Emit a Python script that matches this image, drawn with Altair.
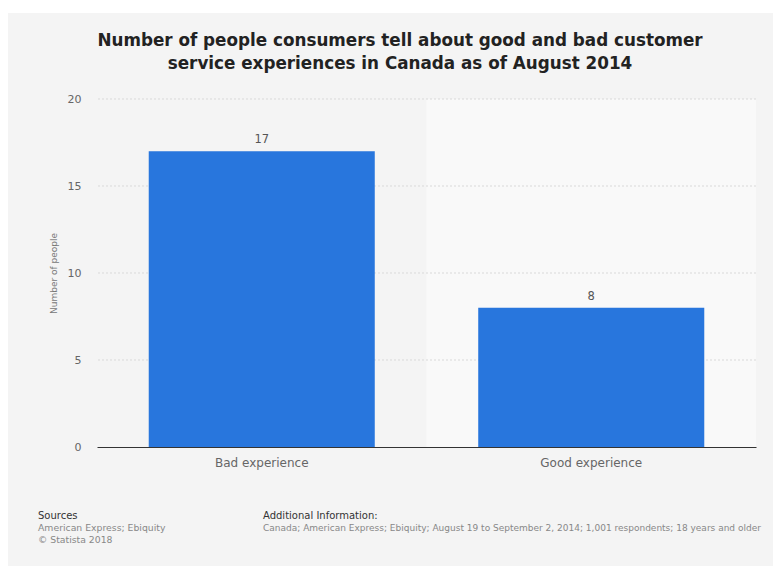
import altair as alt
import pandas as pd

categories = ["Bad experience", "Good experience"]
values = [17, 8]
band_fill = ["#f4f4f4", "#f9f9f9"]
y_ticks = [0, 5, 10, 15, 20]
grid_ticks = [5, 10, 15, 20]

title_lines = [
    "Number of people consumers tell about good and bad customer",
    "service experiences in Canada as of August 2014",
]
sources_head = "Sources"
sources_lines = ["American Express; Ebiquity", "© Statista 2018"]
info_head = "Additional Information:"
info_line = "Canada; American Express; Ebiquity; August 19 to September 2, 2014; 1,001 respondents; 18 years and older"

df = pd.DataFrame({"category": categories, "value": values, "fill": band_fill})
grid_df = pd.DataFrame({"tick": grid_ticks})
one = alt.Data(values=[{"k": 1}])

W, H = 659, 348
PAD_L, PAD_T, PAD_R, PAD_B = 97, 99, 17, 119
FONT = "DejaVu Sans"

outer_bg = alt.Chart(one).mark_rect(color="#f4f4f4").encode(
    x=alt.value(-PAD_L + 8), x2=alt.value(W + PAD_R),
    y=alt.value(-PAD_T + 13), y2=alt.value(H + PAD_B),
)

bands = alt.Chart(df).mark_rect().encode(
    x=alt.X("category:N", sort=categories,
            scale=alt.Scale(paddingInner=0, paddingOuter=0), axis=None),
    y=alt.value(0), y2=alt.value(H),
    color=alt.Color("fill:N", scale=None),
)

xscale = alt.Scale(paddingInner=0.314, paddingOuter=0.157)
yscale = alt.Scale(domain=[0, 20])

x_axis = alt.Axis(title=None, labelAngle=0, labelFontSize=12, labelFont=FONT,
                  labelColor="#666", labelPadding=10, ticks=False, zindex=1,
                  domain=True, domainColor="#333", domainWidth=1)
y_axis = alt.Axis(values=y_ticks, title="Number of people", titleFontSize=9,
                  titleFont=FONT, titleFontWeight="normal", titleColor="#777",
                  titlePadding=9, labelFontSize=11, labelFont=FONT, zindex=1,
                  labelColor="#666", labelPadding=16, ticks=False, domain=False,
                  grid=False)

grid = alt.Chart(grid_df).mark_rule(color="#d9d9d9", strokeDash=[2, 2], strokeWidth=1).encode(
    y=alt.Y("tick:Q", scale=yscale, axis=y_axis),
)

bars = alt.Chart(df).mark_bar(color="#2876dd").encode(
    x=alt.X("category:N", sort=categories, scale=xscale, axis=x_axis),
    y=alt.Y("value:Q", scale=yscale, axis=y_axis),
)

labels = alt.Chart(df).mark_text(dy=-11, fontSize=11.5, font=FONT, color="#555").encode(
    x=alt.X("category:N", sort=categories, scale=xscale, axis=x_axis),
    y=alt.Y("value:Q", scale=yscale, axis=y_axis),
    text=alt.Text("value:Q"),
)

def txt(s, x, y, size, color, align="left", weight="normal"):
    return alt.Chart(one).mark_text(text=s, align=align, baseline="alphabetic",
                                    fontSize=size, font=FONT, color=color,
                                    fontWeight=weight).encode(
        x=alt.value(x), y=alt.value(y))

titles = [
    txt(title_lines[0], 400 - PAD_L, 46 - PAD_T, 16.8, "#222", "center", "bold"),
    txt(title_lines[1], 400 - PAD_L, 69 - PAD_T, 16.8, "#222", "center", "bold"),
]

footer = [
    txt(sources_head, 38 - PAD_L, 519 - PAD_T, 10, "#333"),
    txt(sources_lines[0], 38 - PAD_L, 531 - PAD_T, 9.3, "#888"),
    txt(sources_lines[1], 38 - PAD_L, 543 - PAD_T, 9.3, "#888"),
    txt(info_head, 263 - PAD_L, 519 - PAD_T, 10, "#333"),
    txt(info_line, 263 - PAD_L, 531 - PAD_T, 9, "#888"),
]

main = alt.layer(grid, bars, labels)

chart = alt.layer(outer_bg, bands, main, *titles, *footer).resolve_scale(x="independent").properties(
    width=W, height=H,
    padding={"left": PAD_L, "top": PAD_T, "right": PAD_R, "bottom": PAD_B},
    autosize=alt.AutoSizeParams(type="none"),
    background="white",
).configure_view(stroke=None)

chart.save("out.html", embed_options={"renderer": "svg", "actions": False})
